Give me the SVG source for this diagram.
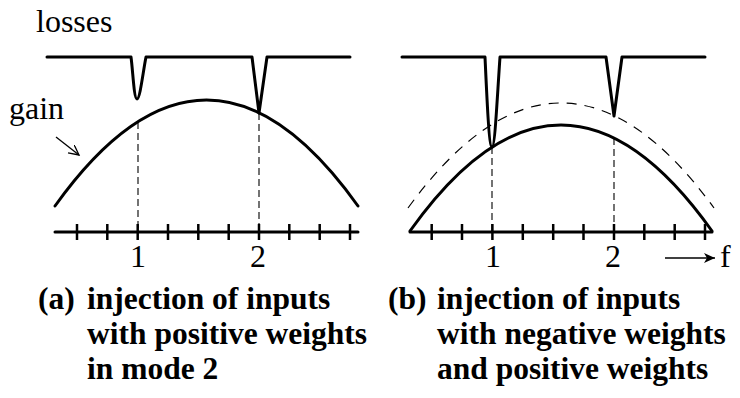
<svg xmlns="http://www.w3.org/2000/svg" width="740" height="398" viewBox="0 0 740 398">
<defs>
<style>
.t{font-family:"Liberation Serif","Times New Roman",serif;font-size:32px;fill:#000}
.b{font-family:"Liberation Serif","Times New Roman",serif;font-size:31.5px;font-weight:bold;fill:#000}
.thick{fill:none;stroke:#000;stroke-width:3;stroke-linejoin:round;stroke-linecap:round}
.tick{stroke:#000;stroke-width:2.5}
.dv{stroke:#000;stroke-width:1.1;stroke-dasharray:7,4}
.dc{fill:none;stroke:#000;stroke-width:1.2;stroke-dasharray:10,8}
.thin{fill:none;stroke:#000;stroke-width:1.3}
</style>
<marker id="open" markerWidth="12" markerHeight="12" refX="10" refY="5" orient="auto" markerUnits="userSpaceOnUse">
<path d="M0,0 L10,5 L0,10" fill="none" stroke="#000" stroke-width="1.3"/>
</marker>
<marker id="solid" markerWidth="14" markerHeight="12" refX="11" refY="5" orient="auto" markerUnits="userSpaceOnUse">
<path d="M0,0 L11,5 L0,10 L3,5 Z" fill="#000"/>
</marker>
</defs>

<g id="panel-a">
<g id="a-losses"><path class="thick" d="M47,57 H131 C133,72 134,99 137,99 C140,99 143,72 146,57 H252 L259,113 L267,57 H350"/></g>
<g id="a-gain"><path class="thick" d="M55,206 Q206.5,-6 358,206"/></g>
<g id="a-axis">
<line class="thick" x1="55" y1="232" x2="358" y2="232"/>
<g class="tick">
<line x1="77" y1="224" x2="77" y2="240"/>
<line x1="107.3" y1="224" x2="107.3" y2="240"/>
<line x1="137.7" y1="224" x2="137.7" y2="240"/>
<line x1="168" y1="224" x2="168" y2="240"/>
<line x1="198.3" y1="224" x2="198.3" y2="240"/>
<line x1="228.7" y1="224" x2="228.7" y2="240"/>
<line x1="259" y1="224" x2="259" y2="240"/>
<line x1="289.3" y1="224" x2="289.3" y2="240"/>
<line x1="319.7" y1="224" x2="319.7" y2="240"/>
<line x1="350" y1="224" x2="350" y2="240"/>
</g>
</g>
<text class="t" x="36" y="32">losses</text>
<text class="t" x="9" y="119">gain</text>
<text class="t" x="138" y="267" text-anchor="middle">1</text>
<text class="t" x="258" y="267" text-anchor="middle">2</text>
</g>

<g id="panel-b">
<g id="b-losses"><path class="thick" d="M402,57 H485 C487,100 489,147 492,147 C495,147 497,100 500,57 H606 L614,116 L622,57 H705"/></g>
<g id="b-gain"><path class="thick" d="M410,231 Q561,19 712,231"/></g>
<g id="b-gain-old"><path class="dc" d="M408,208 Q561,-2 714,208"/></g>
<g id="b-axis">
<line class="thick" x1="410" y1="232" x2="712" y2="232"/>
<g class="tick">
<line x1="431.7" y1="224" x2="431.7" y2="240"/>
<line x1="462" y1="224" x2="462" y2="240"/>
<line x1="492.4" y1="224" x2="492.4" y2="240"/>
<line x1="522.8" y1="224" x2="522.8" y2="240"/>
<line x1="553.2" y1="224" x2="553.2" y2="240"/>
<line x1="583.5" y1="224" x2="583.5" y2="240"/>
<line x1="614" y1="224" x2="614" y2="240"/>
<line x1="644.3" y1="224" x2="644.3" y2="240"/>
<line x1="674.7" y1="224" x2="674.7" y2="240"/>
<line x1="705" y1="224" x2="705" y2="240"/>
</g>
</g>
<text class="t" x="493" y="267" text-anchor="middle">1</text>
<text class="t" x="613" y="267" text-anchor="middle">2</text>
<text class="t" x="720" y="267">f</text>
</g>

<g id="connectors">
<line class="dv" x1="138" y1="122" x2="138" y2="232"/>
<line class="dv" x1="259" y1="113" x2="259" y2="232"/>
<line class="dv" x1="492" y1="147" x2="492" y2="232"/>
<line class="dv" x1="614" y1="138" x2="614" y2="232"/>
<line class="thin" x1="56" y1="137" x2="79" y2="155" marker-end="url(#open)"/>
<line class="thin" x1="665" y1="258" x2="715" y2="258" marker-end="url(#solid)"/>
</g>

<g id="captions">
<text class="b" x="38" y="309">(a)</text>
<text class="b" x="87" y="309">injection of inputs</text>
<text class="b" x="87" y="344">with positive weights</text>
<text class="b" x="87" y="379">in mode 2</text>
<text class="b" x="388" y="309">(b)</text>
<text class="b" x="437" y="309">injection of inputs</text>
<text class="b" x="437" y="344">with negative weights</text>
<text class="b" x="437" y="379">and positive weights</text>
</g>
</svg>
